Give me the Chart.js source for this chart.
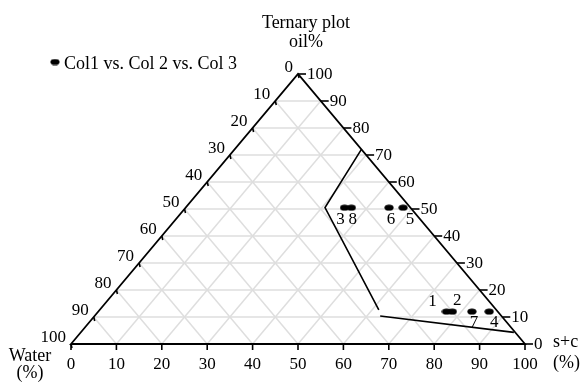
<!DOCTYPE html>
<html>
<head>
<meta charset="utf-8">
<script src="https://cdn.jsdelivr.net/npm/chart.js@4/dist/chart.umd.min.js"></script>
<style>
  html, body { margin: 0; padding: 0; background: #fff; }
  #wrap { width: 582px; height: 383px; }
</style>
</head>
<body>
<div id="wrap"><canvas id="ternario" width="582" height="383"></canvas></div>
<script>
/* Datos (porcentajes) */
const pointIds = ['1', '2', '3', '4', '5', '6', '7', '8'];
const waterPct = [11.3, 10, 14.5, 1.9, 1.6, 4.7, 5.7, 13];
const oilPct = [12, 12, 50.5, 12, 50.5, 50.5, 12, 50.5];
const scPct = [76.7, 78, 35, 86.1, 47.9, 44.8, 82.3, 36.5];

/* Limite de la region (dos tramos) */
const regionOilA = [72.2, 50.5, 12.6];
const regionScA = [27.9, 30.7, 61.5];
const regionOilB = [10.4, 4.3];
const regionScB = [62.9, 95.4];

const tickValues = [0, 10, 20, 30, 40, 50, 60, 70, 80, 90, 100];
const gridValues = [10, 20, 30, 40, 50, 60, 70, 80, 90];

const legendLabel = 'Col1 vs. Col 2 vs. Col 3';
const serif = '"Liberation Serif", "Times New Roman", serif';

/* Convierte (s+c, oil) a coordenadas cartesianas del grafico */
function toXY(sc, oil) {
  return { x: sc + oil / 2, y: oil };
}

const puntos = pointIds.map((id, i) => {
  const total = waterPct[i] + oilPct[i] + scPct[i];
  return toXY(scPct[i] * 100 / total, oilPct[i] * 100 / total);
});
const tramoA = regionOilA.map((o, i) => toXY(regionScA[i], o));
const tramoB = regionOilB.map((o, i) => toXY(regionScB[i], o));

/* Marcador eliptico */
const marker = document.createElement('canvas');
marker.width = 10;
marker.height = 7;
const mctx = marker.getContext('2d');
mctx.fillStyle = '#000';
mctx.beginPath();
mctx.ellipse(5, 3.5, 4.6, 3.1, 0, 0, Math.PI * 2);
mctx.fill();

/* offsets de las etiquetas de cada punto */
const labelOffsets = [[-14, -10], [5, -11], [-4, 12], [5, 11], [7, 12], [2, 12], [2, 11], [1.5, 12]];

const ternaryPlugin = {
  id: 'ternary',
  beforeDatasetsDraw(chart) {
    const { ctx, scales } = chart;
    const px = (sc, o) => {
      const p = toXY(sc, o);
      return [scales.x.getPixelForValue(p.x), scales.y.getPixelForValue(p.y)];
    };
    const seg = (a, b) => {
      ctx.beginPath();
      ctx.moveTo(a[0], a[1]);
      ctx.lineTo(b[0], b[1]);
      ctx.stroke();
    };
    ctx.save();

    /* rejilla */
    ctx.strokeStyle = 'rgb(222,222,222)';
    ctx.lineWidth = 1.5;
    gridValues.forEach(v => {
      seg(px(0, v), px(100 - v, v));       // oil constante
      seg(px(v, 0), px(v, 100 - v));       // s+c constante
      seg(px(100 - v, 0), px(0, 100 - v)); // water constante
    });

    /* bordes del triangulo */
    ctx.strokeStyle = '#000';
    ctx.lineWidth = 1.8;
    ctx.beginPath();
    const a = px(0, 0), b = px(100, 0), c = px(0, 100);
    ctx.moveTo(a[0], a[1]);
    ctx.lineTo(b[0], b[1]);
    ctx.lineTo(c[0], c[1]);
    ctx.closePath();
    ctx.stroke();

    /* marcas y etiquetas */
    ctx.fillStyle = '#000';
    ctx.font = '17px ' + serif;
    ctx.lineWidth = 1.6;
    tickValues.forEach(v => {
      // eje inferior: s+c
      const pb = px(v, 0);
      seg(pb, [pb[0], pb[1] + 6]);
      ctx.textAlign = 'center';
      ctx.textBaseline = 'alphabetic';
      ctx.fillText(String(v), pb[0], pb[1] + 25);

      // eje derecho: oil
      const pr = px(100 - v, v);
      seg(pr, [pr[0] + 8, pr[1]]);
      ctx.textAlign = 'left';
      ctx.textBaseline = 'middle';
      ctx.fillText(String(v), pr[0] + 9, pr[1] + 1);

      // eje izquierdo: water
      const pl = px(0, 100 - v);
      seg(pl, [pl[0] + 1, pl[1] + 4]);
      ctx.textAlign = 'right';
      ctx.textBaseline = 'alphabetic';
      ctx.fillText(String(v), pl[0] - 5, pl[1] - 2);
    });
    ctx.restore();
  },
  afterDraw(chart) {
    const { ctx, scales } = chart;
    ctx.save();
    ctx.fillStyle = '#000';

    /* etiquetas de los puntos */
    ctx.font = '17px ' + serif;
    ctx.textAlign = 'center';
    ctx.textBaseline = 'middle';
    puntos.forEach((p, i) => {
      const x = scales.x.getPixelForValue(p.x);
      const y = scales.y.getPixelForValue(p.y);
      ctx.fillText(pointIds[i], x + labelOffsets[i][0], y + labelOffsets[i][1]);
    });

    /* titulo */
    ctx.font = '18px ' + serif;
    ctx.textAlign = 'center';
    ctx.textBaseline = 'alphabetic';
    ctx.fillText('Ternary plot', 306, 28);
    ctx.fillText('oil%', 306, 47);

    /* titulos de ejes */
    ctx.fillText('Water', 30, 361);
    ctx.fillText('(%)', 30, 378);
    ctx.textAlign = 'left';
    ctx.fillText('s+c', 553, 347);
    ctx.fillText('(%)', 553, 368);

    /* leyenda */
    ctx.drawImage(marker, 50, 58.5);
    ctx.fillText(legendLabel, 64, 69);
    ctx.restore();
  }
};

const ctx = document.getElementById('ternario').getContext('2d');
new Chart(ctx, {
  type: 'scatter',
  data: {
    datasets: [
      {
        data: tramoA,
        showLine: true,
        borderColor: '#000',
        borderWidth: 1.6,
        pointRadius: 0,
        clip: false,
      },
      {
        data: tramoB,
        showLine: true,
        borderColor: '#000',
        borderWidth: 1.6,
        pointRadius: 0,
        clip: false,
      },
      {
        label: legendLabel,
        data: puntos,
        pointStyle: marker,
        pointRadius: 4,
        showLine: false,
        clip: false,
      },
    ],
  },
  options: {
    responsive: false,
    animation: false,
    devicePixelRatio: 1,
    layout: { padding: { left: 71, right: 57, top: 74, bottom: 39 } },
    scales: {
      x: { type: 'linear', min: 0, max: 100, display: false },
      y: { type: 'linear', min: 0, max: 100, display: false },
    },
    plugins: {
      legend: { display: false },
      tooltip: { enabled: false },
    },
  },
  plugins: [ternaryPlugin],
});
</script>
</body>
</html>
